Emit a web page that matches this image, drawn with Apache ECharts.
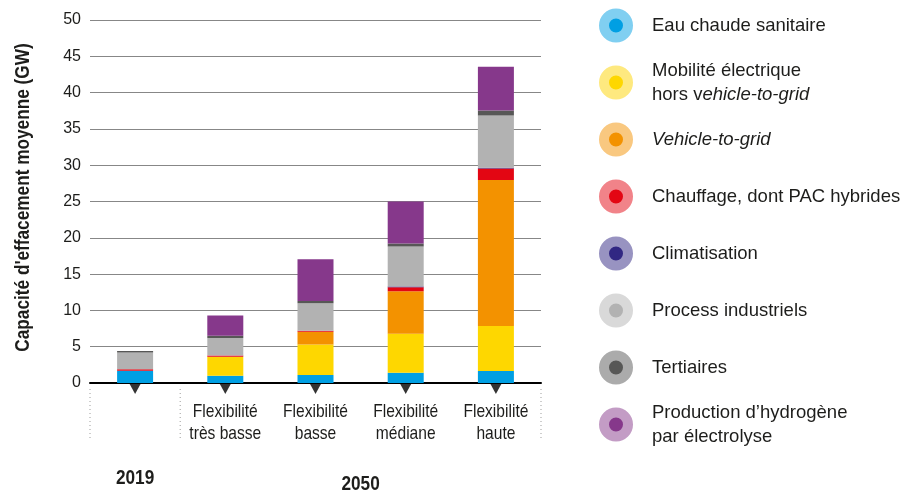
<!DOCTYPE html>
<html><head><meta charset="utf-8">
<script src="https://cdn.jsdelivr.net/npm/echarts@6/dist/echarts.min.js"></script>
<style>html,body{margin:0;padding:0;background:#fff}#c{width:905px;height:491px}</style>
</head><body><div id="c"></div>
<script>
const categories = ['', 'Flexibilité\ntrès basse', 'Flexibilité\nbasse', 'Flexibilité\nmédiane', 'Flexibilité\nhaute'];
const groupLabels = ['2019', '2050'];
const eau = [1.7, 1.0, 1.1, 1.4, 1.65];
const mobilite = [0, 2.6, 4.2, 5.4, 6.2];
const v2g = [0, 0, 1.75, 5.85, 20.1];
const chauffage = [0.2, 0.2, 0.15, 0.55, 1.6];
const clim = [0, 0, 0, 0.1, 0.1];
const process = [2.3, 2.4, 3.8, 5.5, 7.2];
const tertiaires = [0.2, 0.3, 0.3, 0.4, 0.7];
const hydrogene = [0, 2.8, 5.75, 5.8, 6.0];
const yTicks = {min: 0, max: 50, interval: 5};
const yTitle = "Capacité d'effacement moyenne (GW)";

const seriesDefs = [
  {name: 'Eau chaude sanitaire', data: eau, color: '#009fe3', halo: '#80cff1'},
  {name: 'Mobilité électrique\nhors vehicle-to-grid', data: mobilite, color: '#fed700', halo: '#fee97f'},
  {name: 'Vehicle-to-grid', data: v2g, color: '#f39200', halo: '#f9c880'},
  {name: 'Chauffage, dont PAC hybrides', data: chauffage, color: '#e30613', halo: '#f18389'},
  {name: 'Climatisation', data: clim, color: '#312783', halo: '#9893c1'},
  {name: 'Process industriels', data: process, color: '#b2b2b2', halo: '#d9d9d9'},
  {name: 'Tertiaires', data: tertiaires, color: '#575756', halo: '#ababab'},
  {name: 'Production d’hydrogène\npar électrolyse', data: hydrogene, color: '#86388b', halo: '#c39cc5'}
];

const REG = "'Liberation Sans', Arial, sans-serif";
const INK = '#1d1d1b';
const COND = 0.82; // horizontal squeeze to imitate a condensed face

const chart = echarts.init(document.getElementById('c'));

const series = seriesDefs.map(s => ({
  name: s.name, type: 'bar', stack: 'total', barWidth: 36,
  data: s.data, itemStyle: {color: s.color}, emphasis: {disabled: true}
}));
series.push({
  name: 'markers', type: 'scatter', data: categories.map(() => 0),
  symbol: 'triangle', symbolSize: [12, 11], symbolRotate: 180, symbolOffset: [0, 5.5],
  itemStyle: {color: '#000'}, z: 10, silent: true
});

function legendFmt(name) {
  if (name.indexOf('vehicle') >= 0 && name.indexOf('hors') >= 0) {
    return '{r|Mobilité électrique}\n{r|hors v}{i|ehicle-to-grid}';
  }
  if (name === 'Vehicle-to-grid') return '{i|Vehicle-to-grid}';
  return name.split('\n').map(l => '{r|' + l + '}').join('\n');
}

const txt = {fontSize: 18.5, lineHeight: 24, color: INK, fontFamily: REG};
const legends = seriesDefs.map((s, i) => {
  const twoLines = s.name.indexOf('\n') >= 0;
  const center = 25.5 + 57 * i;
  return {
    orient: 'vertical', left: 599, top: center - (twoLines ? 21.5 : 17), padding: 0,
    itemWidth: 24, itemHeight: 24, icon: 'circle', selectedMode: false,
    data: [{name: s.name, itemStyle: {color: s.color, borderColor: s.halo, borderWidth: 10}}],
    formatter: legendFmt,
    textStyle: {
      padding: [0, 0, 0, 19],
      rich: {r: Object.assign({}, txt), i: Object.assign({fontStyle: 'italic'}, txt)}
    }
  };
});

chart.setOption({
  animation: false,
  grid: {left: 90, right: 364, top: 20, bottom: 108, outerBoundsMode: 'none', containLabel: false},
  legend: legends,
  xAxis: {
    type: 'category', data: categories,
    axisLine: {lineStyle: {color: '#000', width: 2}},
    axisTick: {show: false},
    axisLabel: {show: false}
  },
  yAxis: {
    type: 'value', min: yTicks.min, max: yTicks.max, interval: yTicks.interval,
    axisLine: {show: false}, axisTick: {show: false},
    axisLabel: {margin: 9, fontSize: 16, color: INK, fontFamily: REG},
    splitLine: {lineStyle: {color: '#878787', width: 1}}
  },
  series: series
});

// category labels, separators and group labels positioned through the axes' scales
const cx = categories.map((c, i) => chart.convertToPixel({xAxisIndex: 0}, i));
const band = cx[1] - cx[0];
const y0 = chart.convertToPixel({yAxisIndex: 0}, 0);
const yTop = chart.convertToPixel({yAxisIndex: 0}, yTicks.max);
const sepX = [cx[0] - band / 2, cx[0] + band / 2, cx[cx.length - 1] + band / 2];
const graphics = sepX.map(x => ({
  type: 'line', shape: {x1: x, y1: y0 + 6, x2: x, y2: y0 + 58},
  style: {stroke: '#9d9d9c', lineWidth: 1, lineDash: [1, 3]}, silent: true
}));
categories.forEach((c, i) => {
  if (!c) return;
  graphics.push({
    type: 'text', x: cx[i], y: y0 + 40, scaleX: COND, silent: true,
    style: {text: c, font: "19px " + REG, lineHeight: 22, fill: INK, align: 'center', verticalAlign: 'middle'}
  });
});
graphics.push({
  type: 'text', x: cx[0], y: y0 + 95, scaleX: COND, silent: true,
  style: {text: groupLabels[0], font: "bold 21px " + REG, fill: INK, align: 'center', verticalAlign: 'middle'}
});
graphics.push({
  type: 'text', x: (cx[1] + cx[cx.length - 1]) / 2, y: y0 + 101, scaleX: COND, silent: true,
  style: {text: groupLabels[1], font: "bold 21px " + REG, fill: INK, align: 'center', verticalAlign: 'middle'}
});
graphics.push({
  type: 'text', x: 23, y: (y0 + yTop) / 2 - 4, rotation: Math.PI / 2, scaleX: COND, silent: true,
  style: {text: yTitle, font: "bold 21px " + REG, fill: INK, align: 'center', verticalAlign: 'middle'}
});
chart.setOption({graphic: graphics});
</script></body></html>
